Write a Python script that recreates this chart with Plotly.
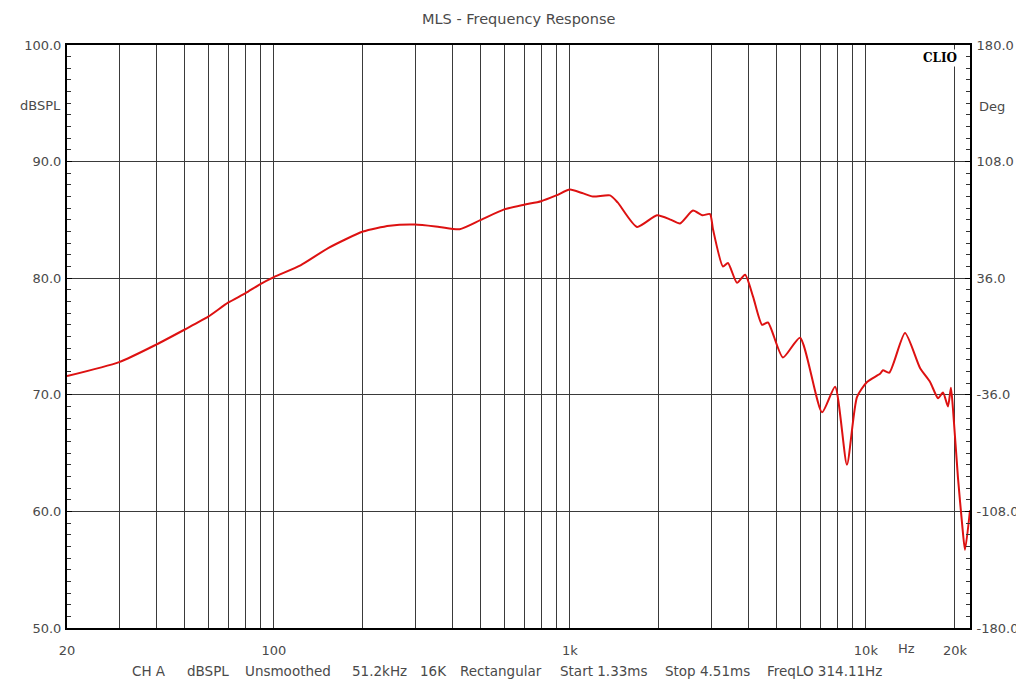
import plotly.graph_objects as go
import math

freq = [20, 30, 40, 50, 60, 70, 80, 90, 100, 123, 153, 200, 246, 300, 362, 424, 500, 600, 700,
        800, 900, 1000, 1100, 1197, 1366, 1450, 1686, 1969, 2200, 2355, 2605, 2800, 2975, 3044,
        3290, 3420, 3670, 3908, 4160, 4460, 4670, 5245, 5990, 7110, 7870, 8630, 9330, 10090,
        11160, 11420, 12000, 13560, 15240, 16480, 17540, 18220, 18940, 19380, 19690, 20470,
        21130, 21620, 22480]
spl = [71.6, 72.8, 74.3, 75.6, 76.7, 77.9, 78.7, 79.5, 80.1, 81.1, 82.6, 84.0, 84.5, 84.6, 84.4,
       84.2, 85.0, 85.9, 86.3, 86.6, 87.1, 87.6, 87.3, 87.0, 87.1, 86.5, 84.4, 85.4, 85.0, 84.7,
       85.8, 85.4, 85.5, 84.2, 81.0, 81.3, 79.6, 80.3, 78.4, 76.0, 76.2, 73.2, 74.9, 68.5, 70.7,
       64.0, 69.8, 71.1, 71.8, 72.1, 71.9, 75.3, 72.3, 71.1, 69.7, 70.2, 69.0, 70.6, 68.8, 62.9,
       59.0, 56.7, 60.1]

grid_freqs = [20, 30, 40, 50, 60, 70, 80, 90, 100, 200, 300, 400, 500, 600, 700, 800, 900,
              1000, 2000, 3000, 4000, 5000, 6000, 7000, 8000, 9000, 10000, 20000]
freq_labels = {20: "20", 100: "100", 1000: "1k", 10000: "10k", 20000: "20k"}
db_ticks = [50, 60, 70, 80, 90, 100]
deg_ticks = [-180, -108, -36, 36, 108, 180]

title = "MLS - Frequency Response"
footer_items = ["CH A", "dBSPL", "Unsmoothed", "51.2kHz", "16K", "Rectangular",
                "Start 1.33ms", "Stop 4.51ms", "FreqLO 314.11Hz"]
footer_x = [130, 185, 243, 350, 418, 458, 558, 663, 765]

font_fam = "DejaVu Sans, Verdana, sans-serif"
txt_col = "#4a4a4a"
grid_col = "#3a3a3a"

# page body has an 8px margin; positions below are in window pixels
OFF = 8
W, H = 1024, 679
L, T, R, B = 59, 37, 62, 59
pw, ph = W - L - R, H - T - B


def px(x, y):
    return (x - OFF - L) / pw, (H - B - (y - OFF)) / ph


fig = go.Figure()
fig.add_trace(go.Scatter(x=freq, y=spl, mode="lines",
                         line=dict(color="#dd1111", width=2, shape="spline", smoothing=0.6),
                         showlegend=False, hoverinfo="skip"))
fig.add_trace(go.Scatter(x=[20], y=[0], yaxis="y2", mode="markers", marker=dict(opacity=0),
                         showlegend=False, hoverinfo="skip"))

fig.update_layout(
    width=W, height=H,
    margin=dict(l=L, r=R, t=T, b=B),
    paper_bgcolor="white", plot_bgcolor="white",
    font=dict(family=font_fam, size=13, color=txt_col),
    xaxis=dict(type="log", range=[math.log10(20), math.log10(22480)],
               tickvals=grid_freqs, ticktext=[freq_labels.get(f, "") for f in grid_freqs],
               showgrid=True, gridcolor=grid_col, gridwidth=1, ticks="",
               showline=True, linecolor="black", linewidth=2, mirror=True,
               zeroline=False, tickfont=dict(size=13, color=txt_col), ticklabelstandoff=9),
    yaxis=dict(range=[50, 100], tickvals=db_ticks, ticktext=[f"{v:.1f}" for v in db_ticks],
               showgrid=True, gridcolor=grid_col, gridwidth=1,
               ticks="inside", ticklen=5, tickcolor="black",
               minor=dict(dtick=1, ticks="inside", ticklen=4, tickcolor="#333", showgrid=False),
               showline=True, linecolor="black", linewidth=2, mirror=False,
               zeroline=False, tickfont=dict(size=13, color=txt_col), ticklabelstandoff=1),
    yaxis2=dict(range=[-180, 180], overlaying="y", side="right",
                tickvals=deg_ticks, ticktext=[f"{v:.1f}" for v in deg_ticks],
                showgrid=False, ticks="inside", ticklen=5, tickcolor="black",
                minor=dict(dtick=7.2, ticks="inside", ticklen=4, tickcolor="#333", showgrid=False),
                showline=True, linecolor="black", linewidth=2,
                zeroline=False, tickfont=dict(size=13, color=txt_col), ticklabelstandoff=2),
)

anns = []


def add(text, x, y, xanchor="center", size=13, color=txt_col, family=font_fam, **kw):
    xp, yp = px(x, y)
    anns.append(dict(text=text, x=xp, y=yp, xref="paper", yref="paper", showarrow=False,
                     xanchor=xanchor, yanchor="middle",
                     font=dict(size=size, color=color, family=family), **kw))


add(title, 518, 19, size=14.5)
for t, x in zip(footer_items, footer_x):
    add(t, x, 671, xanchor="left", size=13.5)
add("dBSPL", 63, 105, xanchor="right")
add("Deg", 977, 106, xanchor="left")
add("Hz", 906, 648)
add("<b>CLIO</b>", 940, 58, size=12, color="black", family="DejaVu Serif, serif",
    bgcolor="white", borderpad=1)

fig.update_layout(annotations=anns)

fig.write_html("out.html")
